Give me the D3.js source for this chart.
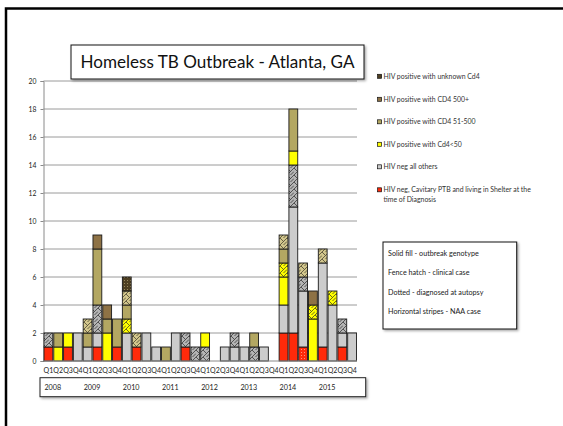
<!DOCTYPE html>
<html>
<head>
<meta charset="utf-8">
<script src="https://cdn.jsdelivr.net/npm/d3@7"></script>
<style>
  html, body { margin: 0; padding: 0; background: #fff; }
  svg { display: block; }
  text { font-family: Lato, "Open Sans", sans-serif; }
</style>
</head>
<body>
<svg id="chart" width="563" height="426"></svg>
<script>
// Quarterly case counts, 2008 Q1 .. 2015 Q4
const years = ["2008", "2009", "2010", "2011", "2012", "2013", "2014", "2015"];
const quarterNames = ["Q1", "Q2", "Q3", "Q4"];
const yTicks = [0, 2, 4, 6, 8, 10, 12, 14, 16, 18, 20];

//                     2008      2009      2010      2011      2012      2013      2014      2015
const redSolid    = [1,0,1,0,  0,1,0,1,  0,1,0,0,  0,0,1,0,  0,0,0,0,  0,0,0,0,  2,2,0,0,  1,0,1,0];
const redDotted   = [0,0,0,0,  0,0,0,0,  0,0,0,0,  0,0,0,0,  0,0,0,0,  0,0,0,0,  0,0,1,0,  0,0,0,0];
const graySolid   = [0,0,0,2,  1,1,0,0,  2,0,2,1,  0,2,0,0,  0,0,1,1,  1,0,1,0,  2,9,4,0,  6,4,1,2];
const grayHatch   = [1,0,0,0,  0,2,0,0,  0,0,0,0,  0,0,1,1,  1,0,0,1,  0,1,0,0,  0,3,1,0,  0,0,1,0];
const yellowSolid = [0,1,1,0,  0,0,2,0,  0,0,0,0,  0,0,0,0,  1,0,0,0,  0,0,0,0,  2,1,0,3,  0,0,0,0];
const yellowHatch = [0,0,0,0,  0,0,0,0,  1,0,0,0,  0,0,0,0,  0,0,0,0,  0,0,0,0,  1,0,0,1,  0,1,0,0];
const khakiSolid  = [0,1,0,0,  1,4,1,2,  1,0,0,0,  1,0,0,0,  0,0,0,0,  0,1,0,0,  1,3,0,0,  0,0,0,0];
const khakiHatch  = [0,0,0,0,  1,0,0,0,  1,1,0,0,  0,0,0,0,  0,0,0,0,  0,0,0,0,  1,0,1,0,  1,0,0,0];
const brownSolid  = [0,0,0,0,  0,1,1,0,  0,0,0,0,  0,0,0,0,  0,0,0,0,  0,0,0,0,  0,0,0,1,  0,0,0,0];
const darkDotted  = [0,0,0,0,  0,0,0,0,  1,0,0,0,  0,0,0,0,  0,0,0,0,  0,0,0,0,  0,0,0,0,  0,0,0,0];

const legendLabels = [
  "HIV positive with unknown Cd4",
  "HIV positive with CD4 500+",
  "HIV positive with CD4 51-500",
  "HIV positive with Cd4<50",
  "HIV neg all others",
  "HIV neg, Cavitary PTB and living in Shelter at the|time of Diagnosis"
];
const noteLines = [
  "Solid fill - outbreak genotype",
  "Fence hatch - clinical case",
  "Dotted - diagnosed at autopsy",
  "Horizontal stripes - NAA case"
];

// colours
const C = {
  red: "#ff2a0a", gray: "#cccccc", yellow: "#ffff00",
  khaki: "#b3a762", brown: "#8e7245", dark: "#4e3f22"
};

// stack order, bottom to top
const series = [
  { key: "redSolid",    values: redSolid,    fill: C.red },
  { key: "redDotted",   values: redDotted,   fill: "url(#dotRed)" },
  { key: "graySolid",   values: graySolid,   fill: C.gray },
  { key: "grayHatch",   values: grayHatch,   fill: "url(#hatchGray)" },
  { key: "yellowSolid", values: yellowSolid, fill: C.yellow },
  { key: "yellowHatch", values: yellowHatch, fill: "url(#hatchYellow)" },
  { key: "khakiSolid",  values: khakiSolid,  fill: C.khaki },
  { key: "khakiHatch",  values: khakiHatch,  fill: "url(#hatchKhaki)" },
  { key: "brownSolid",  values: brownSolid,  fill: C.brown },
  { key: "darkDotted",  values: darkDotted,  fill: "url(#dotDark)" }
];

const quarters = [];
years.forEach(y => quarterNames.forEach(q => quarters.push(y + " " + q)));
const rows = quarters.map((id, i) => {
  const r = { id };
  series.forEach(s => { r[s.key] = s.values[i]; });
  return r;
});

const svg = d3.select("#chart");
const defs = svg.append("defs");

// fence hatch patterns
function hatch(id, bg, line) {
  const p = defs.append("pattern").attr("id", id).attr("patternUnits", "userSpaceOnUse")
    .attr("width", 7).attr("height", 7);
  p.append("rect").attr("width", 7).attr("height", 7).attr("fill", bg);
  p.append("path").attr("d", "M-1,8 L8,-1 M0,0 L3.5,3.5 M3.5,7 L7,3.5")
    .attr("stroke", line).attr("stroke-width", 0.8).attr("fill", "none");
}
hatch("hatchGray", "#b4b4b4", "#3a3a3a");
hatch("hatchYellow", "#ffff00", "#4a4a20");
hatch("hatchKhaki", "#d2c68c", "#4a4530");

function dots(id, bg, dot) {
  const p = defs.append("pattern").attr("id", id).attr("patternUnits", "userSpaceOnUse")
    .attr("width", 3).attr("height", 3);
  p.append("rect").attr("width", 3).attr("height", 3).attr("fill", bg);
  p.append("circle").attr("cx", 1.5).attr("cy", 1.5).attr("r", 0.5).attr("fill", dot);
}
dots("dotRed", C.red, "#ffb0a0");
dots("dotDark", C.dark, "#b0a070");

const shadow = defs.append("filter").attr("id", "shadow")
  .attr("x", "-10%").attr("y", "-10%").attr("width", "120%").attr("height", "140%");
shadow.append("feDropShadow").attr("dx", 1.5).attr("dy", 1.5).attr("stdDeviation", 1)
  .attr("flood-color", "#000").attr("flood-opacity", 0.35);

// slide frame
svg.append("path").attr("d", "M6,430 L6,8.5 L570,8.5")
  .attr("fill", "none").attr("stroke", "#000").attr("stroke-width", 2.5);

// scales
const x = d3.scaleBand().domain(quarters).range([43.5, 357]).paddingInner(0.1).paddingOuter(0.05);
const y = d3.scaleLinear().domain([0, 20]).range([361, 81]);

// grid
const g = svg.append("g");
g.selectAll("line.grid").data(yTicks.slice(1)).join("line")
  .attr("x1", 43.5).attr("x2", 357)
  .attr("y1", d => y(d)).attr("y2", d => y(d))
  .attr("stroke", "#9a9a9a").attr("stroke-width", 1);

// y axis
const yAxis = g.append("g").attr("transform", "translate(43.5,0)")
  .call(d3.axisLeft(y).tickValues(yTicks).tickSize(3).tickPadding(4));
yAxis.select(".domain").attr("stroke", "#8a8a8a");
yAxis.selectAll(".tick line").attr("stroke", "#8a8a8a");
yAxis.selectAll(".tick text").attr("font-size", 6.8).attr("fill", "#222")
  .style("font-family", "Lato, sans-serif");

// bars
const stacked = d3.stack().keys(series.map(s => s.key))(rows);
const layers = g.selectAll("g.layer").data(stacked).join("g").attr("class", "layer")
  .attr("fill", (d, i) => series[i].fill);
layers.selectAll("rect").data(d => d.filter(p => p[1] - p[0] > 0)).join("rect")
  .attr("x", d => x(d.data.id))
  .attr("width", x.bandwidth())
  .attr("y", d => y(d[1]))
  .attr("height", d => y(d[0]) - y(d[1]))
  .attr("stroke", "#1a1a1a").attr("stroke-width", 0.9);

// x axis baseline
g.append("line").attr("x1", 43.5).attr("x2", 357).attr("y1", y(0)).attr("y2", y(0))
  .attr("stroke", "#8a8a8a");

// quarter labels
g.selectAll("text.q").data(quarters).join("text").attr("class", "q")
  .attr("x", d => x(d) + x.bandwidth() / 2).attr("y", 373)
  .attr("text-anchor", "middle").attr("font-size", 7).attr("fill", "#222")
  .text(d => d.split(" ")[1]);

// year box
svg.append("rect").attr("x", 40).attr("y", 377.7).attr("width", 325.7).attr("height", 19)
  .attr("fill", "#fff").attr("stroke", "#222").attr("stroke-width", 1).attr("filter", "url(#shadow)");
svg.selectAll("text.yr").data(years).join("text").attr("class", "yr")
  .attr("x", d => x(d + " Q2") - 1).attr("y", 389.5)
  .attr("text-anchor", "middle").attr("font-size", 7.2).attr("fill", "#222")
  .text(d => d);

// title
svg.append("rect").attr("x", 71).attr("y", 45).attr("width", 293).attr("height", 34)
  .attr("fill", "#fff").attr("stroke", "#111").attr("stroke-width", 1).attr("filter", "url(#shadow)");
svg.append("text").attr("x", 80.5).attr("y", 68)
  .attr("font-size", 17.5).attr("fill", "#111")
  .attr("textLength", 274).attr("lengthAdjust", "spacingAndGlyphs")
  .text("Homeless TB Outbreak - Atlanta, GA");

// legend
const legendFill = [C.dark, C.brown, C.khaki, C.yellow, C.gray, C.red];
const legendY = [76.5, 99.5, 122, 144.5, 167, 190];
const lg = svg.append("g");
legendLabels.forEach((lab, i) => {
  lg.append("rect").attr("x", 377.6).attr("y", legendY[i] - 2.2).attr("width", 4).attr("height", 4)
    .attr("fill", legendFill[i]).attr("stroke", "#111").attr("stroke-width", 0.7);
  const t = lg.append("text").attr("x", 383.5).attr("y", legendY[i] + 2.4)
    .attr("font-size", 6.9).attr("fill", "#333");
  lab.split("|").forEach((part, k) => {
    t.append("tspan").attr("x", 383.5).attr("dy", k === 0 ? 0 : 10).text(part);
  });
});

// pattern key box
svg.append("rect").attr("x", 383).attr("y", 242).attr("width", 133.7).attr("height", 87)
  .attr("fill", "#fff").attr("stroke", "#111").attr("stroke-width", 1).attr("filter", "url(#shadow)");
svg.selectAll("text.note").data(noteLines).join("text").attr("class", "note")
  .attr("x", 388).attr("y", (d, i) => [255.8, 275.2, 294.8, 314.2][i])
  .attr("font-size", 7.2).attr("fill", "#222")
  .text(d => d);
</script>
</body>
</html>
